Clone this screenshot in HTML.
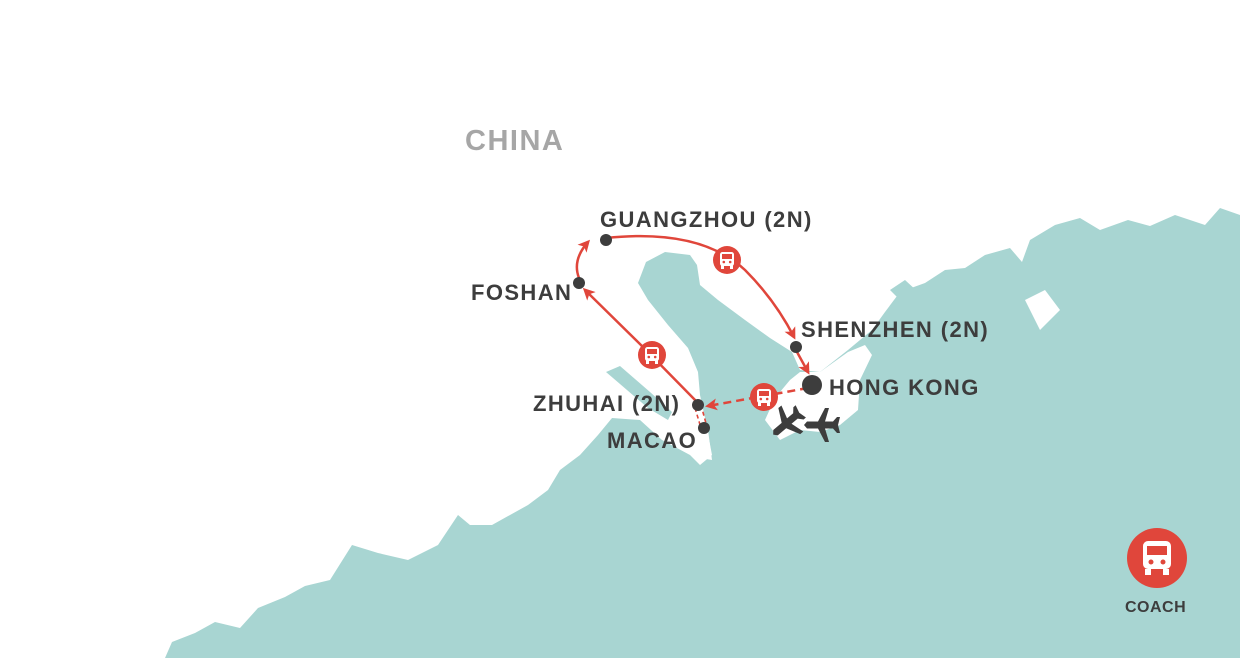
<!DOCTYPE html>
<html><head><meta charset="utf-8"><style>
html,body{margin:0;padding:0;background:#fff;}
body{width:1240px;height:658px;overflow:hidden;position:relative;font-family:"Liberation Sans",sans-serif;}
svg{position:absolute;left:0;top:0;}
</style></head><body>
<svg width="1240" height="658" viewBox="0 0 1240 658">
<defs>
<marker id="ah" markerWidth="12" markerHeight="12" refX="9" refY="6" orient="auto" markerUnits="userSpaceOnUse"><path d="M0,0 L12,6 L0,12 L3,6 z" fill="#e0463b"/></marker>
<g id="bus"><circle r="14" fill="#e0463b"/><rect x="-7" y="-8" width="14" height="14" rx="2.5" fill="#fff"/><rect x="-5" y="-6" width="10" height="5" fill="#e0463b"/><circle cx="-3.2" cy="2" r="1.3" fill="#e0463b"/><circle cx="3.2" cy="2" r="1.3" fill="#e0463b"/><rect x="-6" y="5" width="3" height="4" fill="#fff"/><rect x="3" y="5" width="3" height="4" fill="#fff"/></g>
<g id="plane"><path d="M0,-18 L3.5,-15 L3.5,-4 L17,3 L17,7 L3.5,3 L3.5,11 L8,15 L8,18 L0,16 L-8,18 L-8,15 L-3.5,11 L-3.5,3 L-17,7 L-17,3 L-3.5,-4 L-3.5,-15 z" fill="#3d3d3d"/></g>
</defs>
<path fill="#a8d5d2" d="M165,658 L172,642 L195,633 L215,622 L240,628 L258,608 L285,597 L305,586 L330,580 L352,545 L378,553 L408,560 L438,545 L458,515 L470,525 L492,525 L528,505 L548,490 L560,470 L580,455 L598,435 L612,418 L640,420 L662,440 L690,455 L700,465 L712,455 L705,418 L700,395 L698,372 L688,348 L668,325 L648,300 L638,283 L646,262 L665,252 L690,255 L697,265 L700,285 L718,300 L745,320 L770,338 L792,352 L800,370 L820,372 L848,350 L872,330 L885,312 L900,292 L925,283 L945,270 L965,268 L985,255 L1010,248 L1022,262 L1030,240 L1055,225 L1080,218 L1100,230 L1128,220 L1150,226 L1175,215 L1205,225 L1220,208 L1240,215 L1240,658 Z"/>
<path fill="#fff" d="M775,398 L790,380 L800,372 L820,372 L848,352 L865,345 L872,355 L860,380 L858,410 L840,425 L820,432 L800,430 L780,440 L765,420 Z"/>
<path fill="#fff" d="M610,370 L640,395 L668,420 L690,440 L700,458 L712,460 L708,430 L700,400 L690,380 L660,350 L640,330 Z"/>
<path fill="#a8d5d2" d="M606,372 L620,366 L650,392 L672,412 L668,420 L648,408 Z"/>
<path fill="#a8d5d2" d="M890,290 L905,280 L918,292 L905,305 Z"/>
<path fill="#fff" d="M1025,300 L1045,290 L1060,310 L1040,330 Z"/>
<g fill="none" stroke="#e0463b" stroke-width="2.5">
<path d="M606,238 Q700,228 745,270 Q775,300 794,337" marker-end="url(#ah)"/>
<path d="M797,352 L808,372" marker-end="url(#ah)"/>
<path d="M579,278 Q572,260 588,242" marker-end="url(#ah)"/>
<path d="M698,403 L646,350 L585,290" marker-end="url(#ah)"/>
<path d="M808,388 L708,406" stroke-dasharray="8,5" marker-end="url(#ah)"/>
<path d="M695,408 L701,428 M701,405 L707,427" stroke-width="1.6" stroke-dasharray="4,3"/>
</g>
<use href="#bus" x="727" y="260"/>
<use href="#bus" x="652" y="355"/>
<use href="#bus" x="764" y="397"/>
<g fill="#3d3d3d">
<circle cx="606" cy="240" r="6"/><circle cx="579" cy="283" r="6"/><circle cx="796" cy="347" r="6"/><circle cx="812" cy="385" r="10"/><circle cx="698" cy="405" r="6"/><circle cx="704" cy="428" r="6"/>
</g>
<use href="#plane" transform="translate(787,423) rotate(-130)"/>
<use href="#plane" transform="translate(822,425) rotate(-90)"/>
<g font-family="Liberation Sans,sans-serif" font-size="22" fill="#3d3d3d" font-weight="bold" letter-spacing="1.4">
<text x="600" y="227">GUANGZHOU (2N)</text>
<text x="471" y="300">FOSHAN</text>
<text x="801" y="337">SHENZHEN (2N)</text>
<text x="829" y="395">HONG KONG</text>
<text x="533" y="411">ZHUHAI (2N)</text>
<text x="607" y="448">MACAO</text>
<text x="465" y="150" font-size="29" fill="#a6a6a6" letter-spacing="1.5">CHINA</text>
<text x="1125" y="612" font-size="16" letter-spacing="0.5">COACH</text>
</g>
<g transform="translate(1157,558)"><circle r="30" fill="#e0463b"/><rect x="-14" y="-17" width="28" height="28" rx="5" fill="#fff"/><rect x="-10" y="-12" width="20" height="9" fill="#e0463b"/><circle cx="-6" cy="4" r="2.5" fill="#e0463b"/><circle cx="6" cy="4" r="2.5" fill="#e0463b"/><rect x="-12" y="11" width="6" height="6" fill="#fff"/><rect x="6" y="11" width="6" height="6" fill="#fff"/></g>
</svg>
</body></html>
